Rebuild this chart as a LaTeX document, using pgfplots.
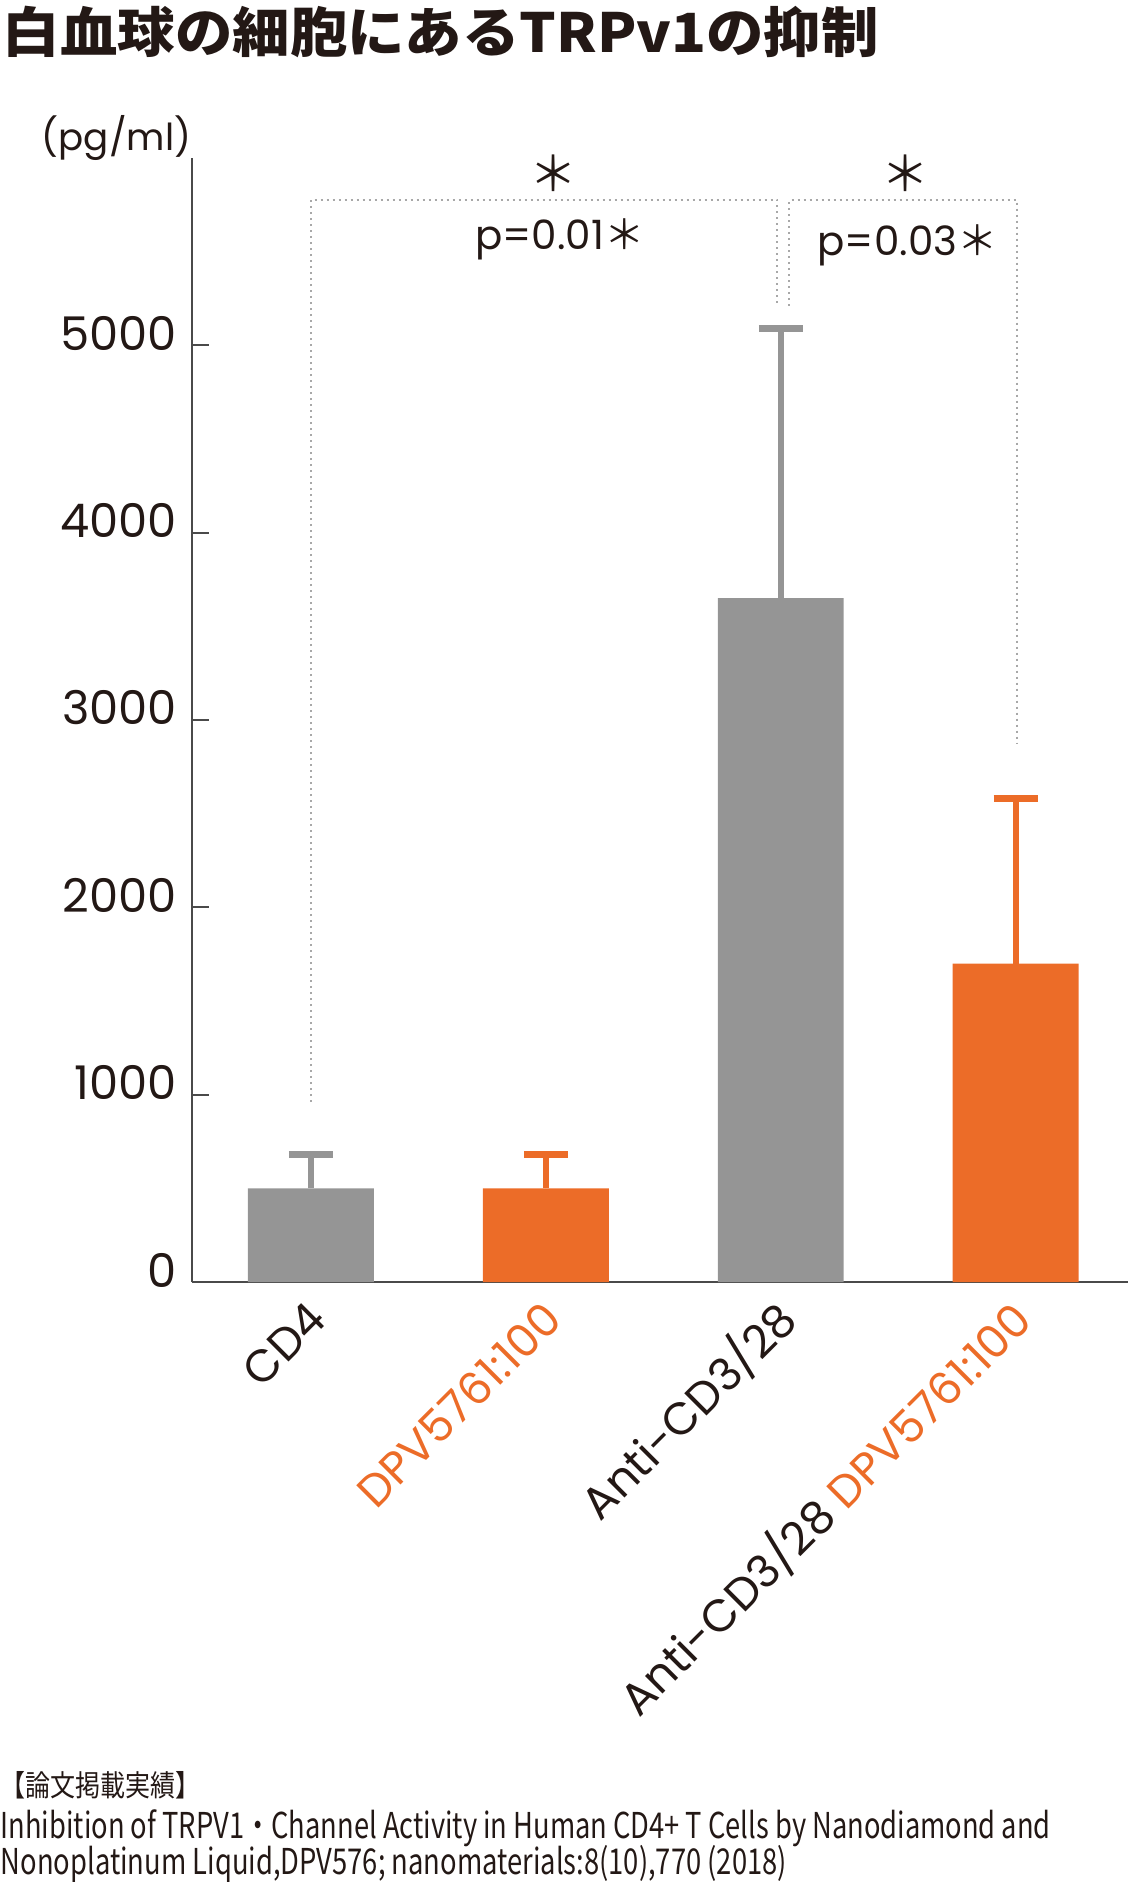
\documentclass[border=0pt]{standalone}
\usepackage{fontspec}
\usepackage{graphicx}
\usepackage{pgfplots}
\pgfplotsset{compat=1.18}
\setmainfont{Poppins}
\newfontfamily\cjk{Noto Sans CJK JP}
\definecolor{barGray}{HTML}{959595}
\definecolor{barOrange}{HTML}{EC6C28}
\definecolor{txt}{HTML}{231815}
\definecolor{axisC}{HTML}{4A4A4A}
\definecolor{dotC}{HTML}{A8A8A8}
\begin{document}
\begin{tikzpicture}
\useasboundingbox (-48pt,-150pt) rectangle (234pt,320.5pt);
\begin{axis}[
  at={(0,0)}, anchor=south west,
  scale only axis, width=234pt, height=281pt,
  xmin=-0.506, xmax=3.478, ymin=0, ymax=6000,
  clip=false,
  axis lines*=left,
  axis line style={axisC, line width=0.45pt},
  ytick={0,1000,2000,3000,4000,5000},
  xtick={0,1,2,3},
  xticklabels={CD4,\textcolor{barOrange}{DPV5761:100},Anti-CD3/28,Anti-CD3/28 \textcolor{barOrange}{DPV5761:100}},
  tick align=inside,
  major tick length=4.25pt,
  y tick style={axisC, line width=0.45pt},
  x tick style={draw=none},
  /pgf/number format/assume math mode=true,
  /pgf/number format/1000 sep={},
  ticklabel style={text=txt},
  yticklabel style={font=\fontsize{11.6}{13}\selectfont, anchor=east, inner sep=0pt, xshift=-3.6pt, yshift=3pt},
  xticklabel style={font=\fontsize{11.3}{13}\selectfont, xshift=1.8pt, yshift=-2.8pt, rotate=45, anchor=east, inner sep=0pt},
  ybar, bar width=0.536,
]
\addplot[fill=barGray, draw=none, bar shift=0pt,
  error bars/.cd, y dir=plus, y explicit,
  error bar style={barGray, line width=1.6pt},
  error mark options={rotate=90, barGray, mark size=5.5pt, line width=1.6pt}]
  coordinates {(0,500) +- (0,180) (2,3650) +- (0,1440)};
\addplot[fill=barOrange, draw=none, bar shift=0pt,
  error bars/.cd, y dir=plus, y explicit,
  error bar style={barOrange, line width=1.6pt},
  error mark options={rotate=90, barOrange, mark size=5.5pt, line width=1.6pt}]
  coordinates {(1,500) +- (0,180) (3,1700) +- (0,880)};
\draw[dotC, line width=0.5pt, dash pattern=on 0.5pt off 1pt]
  (axis cs:0,960) -- (axis cs:0,5776) -- (axis cs:1.985,5776) -- (axis cs:1.985,5212);
\draw[dotC, line width=0.5pt, dash pattern=on 0.5pt off 1pt]
  (axis cs:2.036,5212) -- (axis cs:2.036,5776) -- (axis cs:3.005,5776) -- (axis cs:3.005,2872);
\node[text=txt, font=\fontsize{12}{14}\cjk] at (axis cs:1.031,5917) {＊};
\node[text=txt, font=\fontsize{12}{14}\cjk] at (axis cs:2.531,5917) {＊};
\node[text=txt, font=\fontsize{10.1}{12}\selectfont] at (axis cs:1.06,5564) {p=0.01{\cjk ＊}};
\node[text=txt, font=\fontsize{10.1}{12}\selectfont] at (axis cs:2.54,5532) {p=0.03{\cjk ＊}};
\end{axis}
\node[anchor=east, inner sep=0pt, text=txt, font=\fontsize{9.3}{11}\selectfont] at (0pt,286pt) {(pg/ml)};
\node[anchor=base west, inner sep=0pt, text=txt] at (-47.5pt,307.25pt)
  {\resizebox{219pt}{\height}{\fontsize{13.5}{15}\cjk\bfseries 白血球の細胞にあるTRPv1の抑制}};
\node[anchor=base west, inner sep=0pt, text=txt] at (-48pt,-128.5pt)
  {\resizebox{50pt}{\height}{\fontsize{7.4}{9}\cjk 【論文掲載実績】}};
\node[anchor=base west, inner sep=0pt, text=txt] at (-48pt,-139pt)
  {\resizebox{262.5pt}{\height}{\fontsize{8.9}{10}\cjk Inhibition of TRPV1・Channel Activity in Human CD4+ T Cells by Nanodiamond and}};
\node[anchor=base west, inner sep=0pt, text=txt] at (-48pt,-148pt)
  {\resizebox{196.5pt}{\height}{\fontsize{8.9}{10}\cjk Nonoplatinum Liquid,DPV576; nanomaterials:8(10),770 (2018)}};
\end{tikzpicture}
\end{document}
